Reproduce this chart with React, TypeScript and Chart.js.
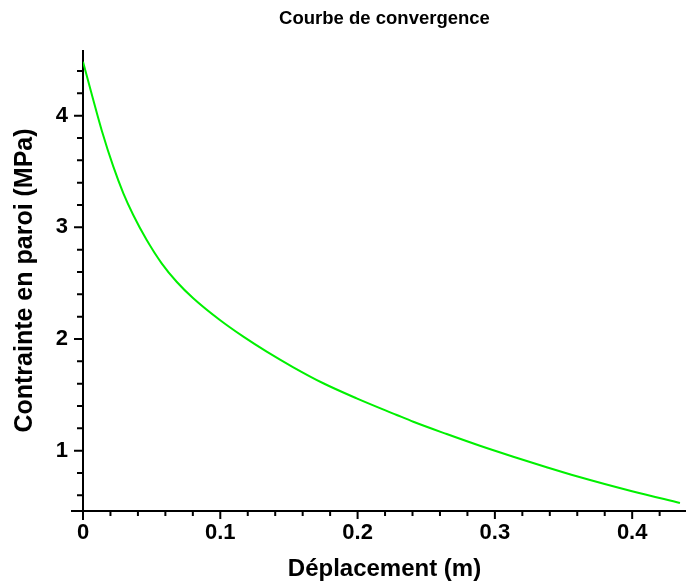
import React, { useEffect, useRef } from "react";
import { Chart, registerables } from "chart.js";

Chart.register(...registerables);

const TITLE = "Courbe de convergence";
const X_LABEL = "Déplacement (m)";
const Y_LABEL = "Contrainte en paroi (MPa)";

const displacement = [
  0, 0.0075, 0.0136, 0.0221, 0.0294, 0.0366, 0.0464, 0.0573, 0.0682, 0.0803,
  0.0997, 0.1168, 0.1338, 0.1532, 0.175, 0.1993, 0.2285, 0.2406, 0.2649,
  0.2891, 0.3134, 0.3377, 0.3596, 0.3999, 0.4348,
];
const stress = [
  4.483, 4.14, 3.87, 3.543, 3.305, 3.111, 2.887, 2.678, 2.513, 2.365, 2.17,
  2.021, 1.887, 1.747, 1.604, 1.469, 1.32, 1.259, 1.149, 1.044, 0.946, 0.852,
  0.771, 0.637, 0.532,
];

const X_MIN = 0;
const X_MAX = 0.4392;
const Y_MIN = 0.46;
const Y_MAX = 4.588;

const xTicks = [
  0, 0.02, 0.04, 0.06, 0.08, 0.1, 0.12, 0.14, 0.16, 0.18, 0.2, 0.22, 0.24,
  0.26, 0.28, 0.3, 0.32, 0.34, 0.36, 0.38, 0.4, 0.42,
];
const xMajorTicks = [0, 0.1, 0.2, 0.3, 0.4];
const xTickLabels = ["0", "0.1", "0.2", "0.3", "0.4"];

const yTicks = [
  0.6, 0.8, 1, 1.2, 1.4, 1.6, 1.8, 2, 2.2, 2.4, 2.6, 2.8, 3, 3.2, 3.4, 3.6,
  3.8, 4, 4.2, 4.4,
];
const yMajorTicks = [1, 2, 3, 4];
const yTickLabels = ["1", "2", "3", "4"];

const FONT = "'Liberation Sans', Arial, 'DejaVu Sans', sans-serif";

const isMajor = (list: number[], v: number) =>
  list.findIndex((m) => Math.abs(m - v) < 1e-9);

const axesPlugin = {
  id: "mapleAxes",
  beforeDatasetsDraw(chart: any) {
    const { ctx, chartArea, scales } = chart;
    const xs = scales.x;
    const ys = scales.y;
    const x0 = xs.getPixelForValue(X_MIN);
    const yb = ys.getPixelForValue(Y_MIN);
    ctx.save();
    ctx.strokeStyle = "#000";
    ctx.lineWidth = 2;
    ctx.beginPath();
    ctx.moveTo(x0, chartArea.top);
    ctx.lineTo(x0, yb + 9);
    ctx.moveTo(x0 - 12, yb);
    ctx.lineTo(chartArea.right, yb);
    for (const t of ys.ticks) {
      const p = ys.getPixelForValue(t.value);
      const len = isMajor(yMajorTicks, t.value) >= 0 ? 9 : 6;
      ctx.moveTo(x0 - len, p);
      ctx.lineTo(x0, p);
    }
    for (const t of xs.ticks) {
      const p = xs.getPixelForValue(t.value);
      const len = isMajor(xMajorTicks, t.value) >= 0 ? 8 : 5;
      ctx.moveTo(p, yb);
      ctx.lineTo(p, yb + len);
    }
    ctx.stroke();
    ctx.restore();
  },
};

export default function App() {
  const canvasRef = useRef<HTMLCanvasElement | null>(null);

  useEffect(() => {
    const canvas = canvasRef.current;
    if (!canvas) return;
    const chart = new Chart(canvas, {
      type: "line",
      data: {
        datasets: [
          {
            data: displacement.map((x, i) => ({ x, y: stress[i] })),
            borderColor: "#00f000",
            borderWidth: 2,
            pointRadius: 0,
            fill: false,
            cubicInterpolationMode: "monotone",
          },
        ],
      },
      options: {
        animation: false,
        responsive: false,
        maintainAspectRatio: false,
        layout: { padding: 0 },
        plugins: {
          legend: { display: false },
          tooltip: { enabled: false },
          title: {
            display: true,
            text: TITLE,
            fullSize: false,
            color: "#000",
            font: { family: FONT, size: 18.5, weight: "bold" },
            padding: { top: 8, bottom: 19.8 },
          },
        },
        scales: {
          x: {
            type: "linear",
            min: X_MIN,
            max: X_MAX,
            afterBuildTicks: (scale: any) => {
              scale.ticks = xTicks.map((v) => ({ value: v }));
            },
            afterFit: (scale: any) => {
              scale.height = 74;
            },
            grid: { display: false, drawTicks: false },
            border: { display: false },
            ticks: {
              autoSkip: false,
              maxRotation: 0,
              padding: 9,
              color: "#000",
              font: { family: FONT, size: 22, weight: "bold" },
              callback: (value: any) => {
                const i = isMajor(xMajorTicks, Number(value));
                return i >= 0 ? xTickLabels[i] : "";
              },
            },
            title: {
              display: true,
              text: X_LABEL,
              color: "#000",
              font: { family: FONT, size: 24, weight: "bold" },
              padding: { top: 0, bottom: 1 },
            },
          },
          y: {
            type: "linear",
            min: Y_MIN,
            max: Y_MAX,
            afterBuildTicks: (scale: any) => {
              scale.ticks = yTicks.map((v) => ({ value: v }));
            },
            afterFit: (scale: any) => {
              scale.width = 83;
            },
            grid: { display: false, drawTicks: false },
            border: { display: false },
            ticks: {
              autoSkip: false,
              padding: 15,
              color: "#000",
              font: { family: FONT, size: 22, weight: "bold" },
              callback: (value: any) => {
                const i = isMajor(yMajorTicks, Number(value));
                return i >= 0 ? yTickLabels[i] : "";
              },
            },
            title: {
              display: true,
              text: Y_LABEL,
              color: "#000",
              font: { family: FONT, size: 25, weight: "bold" },
              padding: { top: 10, bottom: 0 },
            },
          },
        },
      },
      plugins: [axesPlugin],
    } as any);
    return () => chart.destroy();
  }, []);

  return (
    <div
      style={{
        position: "fixed",
        left: 0,
        top: 0,
        width: 686,
        height: 585,
        background: "#fff",
      }}
    >
      <canvas
        ref={canvasRef}
        width={686}
        height={585}
        style={{ display: "block", width: 686, height: 585 }}
      />
    </div>
  );
}
